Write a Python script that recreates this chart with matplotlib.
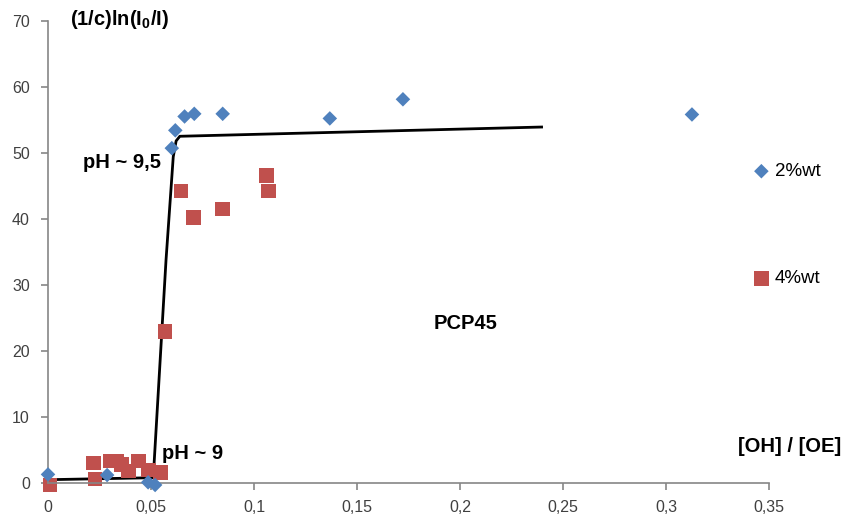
import matplotlib
matplotlib.use('Agg')
import matplotlib.pyplot as plt
from matplotlib.ticker import FuncFormatter

plt.rcParams['font.family'] = ['Liberation Sans', 'DejaVu Sans']
plt.rcParams['mathtext.fontset'] = 'custom'
plt.rcParams['mathtext.bf'] = 'Liberation Sans:bold'
plt.rcParams['mathtext.rm'] = 'Liberation Sans'

# 2%wt series (blue diamonds)
x_2wt = [0.0, 0.0287, 0.0486, 0.052, 0.0601, 0.0618, 0.0663, 0.071, 0.0848, 0.1368, 0.1723, 0.3126]
y_2wt = [1.3, 1.2, 0.1, -0.3, 50.7, 53.4, 55.5, 55.9, 55.9, 55.2, 58.1, 55.8]

# 4%wt series (red squares)
x_4wt = [0.001, 0.022, 0.0229, 0.0302, 0.0334, 0.0358, 0.039, 0.0439, 0.0488, 0.0545,
         0.0569, 0.0645, 0.0707, 0.0848, 0.106, 0.1071]
y_4wt = [-0.3, 3.0, 0.6, 3.3, 3.3, 2.8, 1.8, 3.3, 2.0, 1.6,
         22.9, 44.2, 40.2, 41.5, 46.6, 44.2]

# guide line
fit_x = [0.0, 0.0511, 0.0573, 0.0608, 0.0622, 0.0640, 0.2396]
fit_y = [0.5, 0.8, 33.8, 49.4, 51.8, 52.5, 53.9]

xticks = [0, 0.05, 0.1, 0.15, 0.2, 0.25, 0.3, 0.35]
yticks = [0, 10, 20, 30, 40, 50, 60, 70]

blue = '#4F81BD'
red = '#C0504D'
axis_gray = '#868686'

fig = plt.figure(figsize=(8.42, 5.15), dpi=100)
ax = fig.add_axes([48 / 842, 1 - 483 / 515, (769 - 48) / 842, (483 - 20.7) / 515])

ax.plot(fit_x, fit_y, color='black', lw=2, zorder=1)
ax.scatter(x_2wt, y_2wt, marker='D', s=55, color=blue, edgecolors='none',
           label='2%wt', zorder=3, clip_on=False)
ax.scatter(x_4wt, y_4wt, marker='s', s=110, color=red, edgecolors='none',
           label='4%wt', zorder=2, clip_on=False)

ax.set_xlim(0, 0.35)
ax.set_ylim(0, 70)
ax.set_xticks(xticks)
ax.set_yticks(yticks)

def comma_fmt(v, pos):
    return ('%g' % v).replace('.', ',')

ax.xaxis.set_major_formatter(FuncFormatter(comma_fmt))
ax.yaxis.set_major_formatter(FuncFormatter(comma_fmt))

for side in ['top', 'right']:
    ax.spines[side].set_visible(False)
for side in ['left', 'bottom']:
    ax.spines[side].set_color(axis_gray)
    ax.spines[side].set_linewidth(1.2)
ax.tick_params(axis='both', direction='out', length=5, width=1.2, color=axis_gray,
               labelsize=11.5, labelcolor='#404040')
ax.tick_params(axis='x', pad=7)
ax.tick_params(axis='y', pad=8)

fs = 14.5
ax.text(0.017, 48.6, 'pH ~ 9,5', fontsize=fs, fontweight='bold', va='center', ha='left')
ax.text(0.0553, 4.5, 'pH ~ 9', fontsize=fs, fontweight='bold', va='center', ha='left')
ax.text(0.187, 24.2, 'PCP45', fontsize=fs, fontweight='bold', va='center', ha='left')
ax.text(0.335, 5.5, '[OH] / [OE]', fontsize=fs, fontweight='bold', va='center', ha='left',
        clip_on=False)
ax.text(0.0107, 70.2, r'(1/c)ln(I$_\mathbf{0}$/I)', fontsize=fs, fontweight='bold',
        va='center', ha='left', clip_on=False)

fig.legend(loc='upper left', bbox_to_anchor=(752 / 842, 1 - 163 / 515), frameon=False,
           fontsize=13.5, labelspacing=4.8, handletextpad=0.2, handlelength=1.0,
           borderpad=0, borderaxespad=0, scatterpoints=1)

fig.savefig('out.png', dpi=100)
